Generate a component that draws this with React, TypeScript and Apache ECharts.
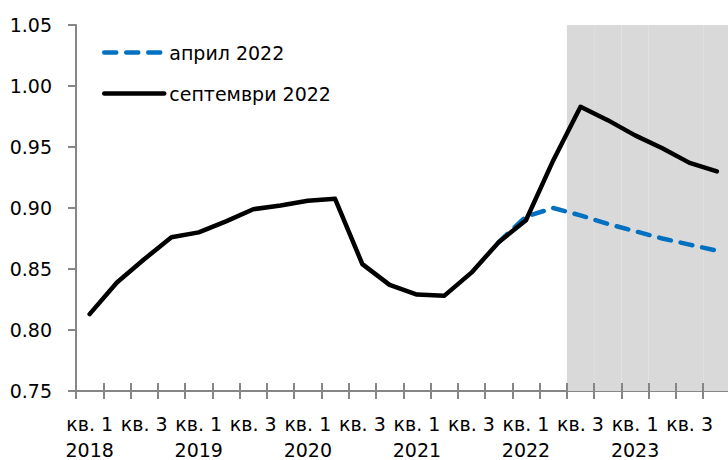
import React, { useEffect, useRef } from "react";
import * as echarts from "echarts";

const years = ["2018", "2019", "2020", "2021", "2022", "2023"];
const quarters = ["кв. 1", "кв. 2", "кв. 3", "кв. 4"];
const categories: string[] = [];
years.forEach((y) => {
  quarters.forEach((q, i) => {
    categories.push(i === 0 ? `${q}\n${y}` : q);
  });
});

// септември 2022 (solid black)
const september2022 = [
  0.813, 0.839, 0.858, 0.876, 0.880, 0.889, 0.899, 0.902, 0.906, 0.9075,
  0.854, 0.837, 0.829, 0.828, 0.847, 0.872, 0.890, 0.939, 0.983, 0.972,
  0.9595, 0.949, 0.937, 0.930,
];

// април 2022 (dashed blue)
const april2022: (number | null)[] = [
  null, null, null, null, null, null, null, null, null, null,
  null, null, null, null, null, 0.872, 0.893, 0.900, 0.894, 0.887,
  0.881, 0.875, 0.870, 0.865,
];

// forecast horizon shading (2022 Q3 onwards)
const shadeStartIndex = 18;
const yMin = 0.75;
const yMax = 1.05;
const yStep = 0.05;

const shade = categories.map((_, i) => (i >= shadeStartIndex ? yMax : null));

const FONT = "DejaVu Sans";
const AXIS_GRAY = "#868686";

export default function App() {
  const ref = useRef<HTMLDivElement>(null);
  useEffect(() => {
    if (!ref.current) return;
    const chart = echarts.init(ref.current, null, { renderer: "svg" });
    chart.setOption({
      animation: false,
      grid: {
        left: 76,
        top: 25,
        width: 654.5,
        bottom: 69,
        containLabel: false,
        outerBoundsMode: "none",
      },
      legend: {
        orient: "vertical",
        left: 102,
        top: 43,
        padding: 0,
        itemWidth: 60,
        itemHeight: 20,
        itemGap: 22,
        itemTextGap: 8,
        data: ["април 2022", "септември 2022"],
        itemStyle: { opacity: 0 },
        lineStyle: { width: 4.5, cap: "round" },
        textStyle: { fontFamily: FONT, fontSize: 19, color: "#000" },
      },
      xAxis: [
        {
          type: "category",
          data: categories,
          boundaryGap: true,
          axisLine: { show: true, lineStyle: { color: AXIS_GRAY, width: 2 } },
          axisTick: { show: true, inside: false, length: 8, interval: 0, lineStyle: { color: AXIS_GRAY, width: 2 } },
          axisLabel: {
            interval: 1,
            margin: 20,
            fontFamily: FONT,
            fontSize: 19,
            lineHeight: 26,
            color: "#000",
          },
          splitLine: { show: false },
        },
        {
          type: "category",
          data: categories,
          boundaryGap: true,
          position: "bottom",
          axisLine: { show: false },
          axisTick: { show: true, inside: true, length: 8, interval: 0, lineStyle: { color: AXIS_GRAY, width: 2 } },
          axisLabel: { show: false },
          splitLine: { show: false },
        },
      ],
      yAxis: {
        type: "value",
        min: yMin,
        max: yMax,
        interval: yStep,
        axisLine: { show: true, lineStyle: { color: AXIS_GRAY, width: 2 } },
        axisTick: { show: true, inside: false, length: 8, lineStyle: { color: AXIS_GRAY, width: 2 } },
        axisLabel: {
          margin: 24,
          fontFamily: FONT,
          fontSize: 19,
          color: "#000",
          formatter: (v: number) => v.toFixed(2),
        },
        splitLine: { show: false },
      },
      series: [
        {
          name: "shade",
          type: "bar",
          data: shade,
          barWidth: "100%",
          barCategoryGap: "0%",
          itemStyle: { color: "#d9d9d9" },
          silent: true,
          z: 0,
          clip: true,
        },
        {
          name: "април 2022",
          type: "line",
          data: april2022,
          symbol: "none",
          lineStyle: { color: "#0070c0", width: 4.5, type: [12, 10], cap: "round", join: "round" },
          itemStyle: { color: "#0070c0" },
          z: 3,
        },
        {
          name: "септември 2022",
          type: "line",
          data: september2022,
          symbol: "none",
          lineStyle: { color: "#000", width: 4.5, cap: "round", join: "round" },
          itemStyle: { color: "#000" },
          z: 4,
        },
      ],
    });
    return () => chart.dispose();
  }, []);
  return (
    <div
      ref={ref}
      style={{ position: "absolute", left: 0, top: 0, width: 728, height: 460 }}
    />
  );
}
